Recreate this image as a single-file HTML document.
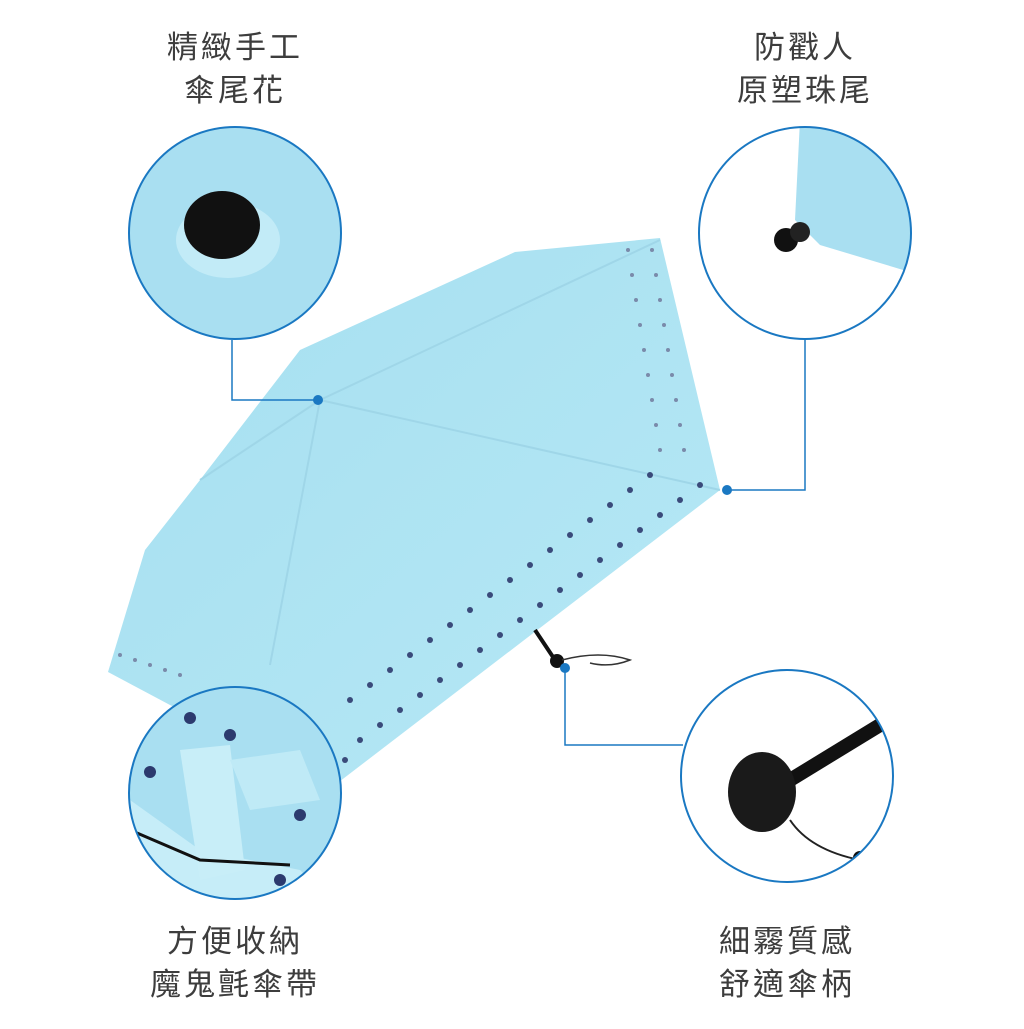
<!DOCTYPE html>
<html><head><meta charset="utf-8"><style>
html,body{margin:0;padding:0;background:#fff;}
body{width:1024px;height:1024px;overflow:hidden;}
text{font-family:"Liberation Sans","Noto Sans CJK TC",sans-serif;fill:#3d3d3d;font-size:31px;letter-spacing:3px;}
</style></head><body>
<svg width="1024" height="1024" viewBox="0 0 1024 1024" xmlns="http://www.w3.org/2000/svg">
<defs>
<linearGradient id="g" x1="0" y1="0" x2="1" y2="1">
<stop offset="0" stop-color="#a6dff0"/><stop offset="1" stop-color="#b6e8f5"/></linearGradient>
<clipPath id="c1"><circle cx="235" cy="233" r="106"/></clipPath>
<clipPath id="c2"><circle cx="805" cy="233" r="106"/></clipPath>
<clipPath id="c3"><circle cx="235" cy="793" r="106"/></clipPath>
<clipPath id="c4"><circle cx="787" cy="776" r="106"/></clipPath>
</defs>
<!-- umbrella -->
<path d="M660,238 L515,252 L300,350 L200,480 L145,550 L108,672 L170,705 L335,785 L720,490 Z" fill="url(#g)"/>
<path d="M320,400 L720,490 M320,400 L270,665 M320,400 L660,240 M320,400 L200,480" stroke="#9fd6e8" stroke-width="2" fill="none"/>
<g fill="#3a4a7a">
<circle cx="650" cy="475" r="3"/><circle cx="630" cy="490" r="3"/><circle cx="610" cy="505" r="3"/><circle cx="590" cy="520" r="3"/><circle cx="570" cy="535" r="3"/><circle cx="550" cy="550" r="3"/><circle cx="530" cy="565" r="3"/><circle cx="510" cy="580" r="3"/><circle cx="490" cy="595" r="3"/><circle cx="470" cy="610" r="3"/><circle cx="450" cy="625" r="3"/><circle cx="430" cy="640" r="3"/><circle cx="410" cy="655" r="3"/><circle cx="390" cy="670" r="3"/><circle cx="370" cy="685" r="3"/><circle cx="350" cy="700" r="3"/>
<circle cx="700" cy="485" r="3"/><circle cx="680" cy="500" r="3"/><circle cx="660" cy="515" r="3"/><circle cx="640" cy="530" r="3"/><circle cx="620" cy="545" r="3"/><circle cx="600" cy="560" r="3"/><circle cx="580" cy="575" r="3"/><circle cx="560" cy="590" r="3"/><circle cx="540" cy="605" r="3"/><circle cx="520" cy="620" r="3"/><circle cx="500" cy="635" r="3"/><circle cx="480" cy="650" r="3"/><circle cx="460" cy="665" r="3"/><circle cx="440" cy="680" r="3"/><circle cx="420" cy="695" r="3"/><circle cx="400" cy="710" r="3"/><circle cx="380" cy="725" r="3"/><circle cx="360" cy="740" r="3"/><circle cx="345" cy="760" r="3"/>
</g>
<g fill="#7a8aaa">
<circle cx="628" cy="250" r="2"/><circle cx="632" cy="275" r="2"/><circle cx="636" cy="300" r="2"/><circle cx="640" cy="325" r="2"/><circle cx="644" cy="350" r="2"/><circle cx="648" cy="375" r="2"/><circle cx="652" cy="400" r="2"/><circle cx="656" cy="425" r="2"/><circle cx="660" cy="450" r="2"/>
<circle cx="652" cy="250" r="2"/><circle cx="656" cy="275" r="2"/><circle cx="660" cy="300" r="2"/><circle cx="664" cy="325" r="2"/><circle cx="668" cy="350" r="2"/><circle cx="672" cy="375" r="2"/><circle cx="676" cy="400" r="2"/><circle cx="680" cy="425" r="2"/><circle cx="684" cy="450" r="2"/>
<circle cx="120" cy="655" r="2"/><circle cx="135" cy="660" r="2"/><circle cx="150" cy="665" r="2"/><circle cx="165" cy="670" r="2"/><circle cx="180" cy="675" r="2"/>
</g>
<path d="M535,630 L555,660" stroke="#111" stroke-width="4"/>
<circle cx="557" cy="661" r="7" fill="#111"/>
<path d="M562,660 Q600,650 630,660 Q610,668 590,663" stroke="#333" stroke-width="1.5" fill="none"/>
<!-- connectors -->
<g stroke="#1a78c2" stroke-width="1.5" fill="none">
<path d="M232,340 L232,400 L318,400"/>
<path d="M805,340 L805,490 L727,490"/>
<path d="M565,668 L565,745 L683,745"/>
</g>
<g fill="#1a78c2"><circle cx="318" cy="400" r="5"/><circle cx="727" cy="490" r="5"/><circle cx="565" cy="668" r="5"/></g>
<!-- circle 1 -->
<g clip-path="url(#c1)"><rect x="120" y="120" width="230" height="230" fill="#a9dff1"/>
<ellipse cx="228" cy="240" rx="52" ry="38" fill="#c2ebf7"/>
<ellipse cx="222" cy="225" rx="38" ry="34" fill="#111"/></g>
<!-- circle 2 -->
<g clip-path="url(#c2)"><rect x="690" y="120" width="230" height="230" fill="#fff"/>
<path d="M800,120 L920,120 L920,275 L820,245 L795,220 Z" fill="#a9dff1"/>
<circle cx="786" cy="240" r="12" fill="#111"/><circle cx="800" cy="232" r="10" fill="#222"/></g>
<!-- circle 3 -->
<g clip-path="url(#c3)"><rect x="120" y="680" width="230" height="230" fill="#a9dff1"/>
<path d="M130,800 L200,850 L300,870 L330,900 L130,900Z" fill="#c6edf8"/>
<path d="M180,750 L230,745 L245,870 L200,880Z" fill="#c8eef8"/>
<path d="M230,760 L300,750 L320,800 L250,810Z" fill="#bfeaf6"/>
<g fill="#2c3a6e"><circle cx="190" cy="718" r="6"/><circle cx="230" cy="735" r="6"/><circle cx="150" cy="772" r="6"/><circle cx="300" cy="815" r="6"/><circle cx="280" cy="880" r="6"/></g>
<path d="M130,830 L200,860 L290,865" stroke="#111" stroke-width="3" fill="none"/></g>
<!-- circle 4 -->
<g clip-path="url(#c4)"><rect x="670" y="660" width="230" height="230" fill="#fff"/>
<path d="M790,780 L880,725" stroke="#111" stroke-width="14"/>
<ellipse cx="762" cy="792" rx="34" ry="40" fill="#1a1a1a"/>
<path d="M790,820 Q810,850 860,860" stroke="#222" stroke-width="2" fill="none"/>
<circle cx="860" cy="858" r="7" fill="#111"/></g>
<g fill="none" stroke="#1a78c2" stroke-width="2">
<circle cx="235" cy="233" r="106"/><circle cx="805" cy="233" r="106"/><circle cx="235" cy="793" r="106"/><circle cx="787" cy="776" r="106"/></g>
<!-- labels -->
<g text-anchor="middle">
<text x="235" y="58">精緻手工</text><text x="235" y="101">傘尾花</text>
<text x="805" y="58">防戳人</text><text x="805" y="101">原塑珠尾</text>
<text x="235" y="952">方便收納</text><text x="235" y="995">魔鬼氈傘帶</text>
<text x="787" y="952">細霧質感</text><text x="787" y="995">舒適傘柄</text>
</g>
</svg>
</body></html>
